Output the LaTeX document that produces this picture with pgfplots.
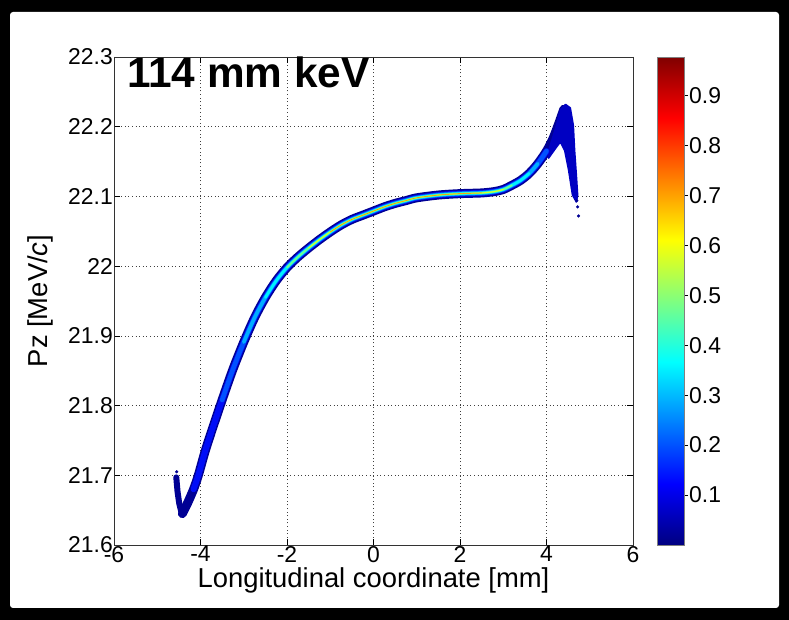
\documentclass[border=0pt]{standalone}
\usepackage{pgfplots}
\usepackage{pgfplotstable}
\pgfplotsset{compat=1.18}
\usepackage{fontspec}
\setmainfont{Liberation Sans}

\definecolor{jA}{rgb}{0,0,0.58}
\definecolor{jP}{rgb}{0,0,0.76}
\definecolor{jB}{rgb}{0,0.05,0.97}
\definecolor{jC}{rgb}{0,0.32,1}
\definecolor{jD}{rgb}{0,0.68,1}
\definecolor{jE}{rgb}{0,0.95,1}
\definecolor{jF}{rgb}{0.42,1,0.58}
\definecolor{jG}{rgb}{0.85,1,0.15}
\definecolor{jH}{rgb}{1,0.5,0}

\pgfplotstableread{
x y
-4.42 21.645
-4.30 21.660
-4.16 21.680
-4.05 21.700
-3.90 21.733
-3.75 21.762
-3.50 21.808
-3.25 21.852
-3.00 21.891
-2.75 21.926
-2.50 21.955
-2.25 21.979
-2.00 21.998
-1.75 22.013
-1.50 22.026
-1.25 22.038
-1.00 22.049
-0.75 22.059
-0.50 22.067
-0.25 22.073
0.00 22.079
0.25 22.085
0.50 22.090
0.75 22.094
1.00 22.098
1.50 22.102
2.00 22.104
2.50 22.105
2.80 22.107
3.00 22.110
3.20 22.116
3.40 22.123
3.60 22.133
3.80 22.147
4.00 22.165
4.15 22.183
4.28 22.204
4.40 22.225
}\curve

\pgfplotstableread{
x y
-4.56 21.697
-4.53 21.676
-4.49 21.659
-4.44 21.647
-4.38 21.648
-4.30 21.660
}\hook

\pgfplotstableread{
x y
4.05 22.166
4.23 22.202
4.32 22.224
4.44 22.232
4.55 22.227
4.62 22.202
4.65 22.166
4.69 22.131
4.72 22.102
4.69 22.092
4.60 22.102
4.51 22.138
4.42 22.166
4.32 22.178
4.21 22.169
4.05 22.155
}\peak

\begin{document}
\begin{tikzpicture}
\fill[black] (0bp,0bp) rectangle (789bp,620bp);
\fill[white, rounded corners=3bp] (10bp,12bp) rectangle (779bp,608bp);
\begin{axis}[
  at={(114bp,75bp)}, anchor=south west,
  scale only axis, width=519bp, height=488bp,
  xmin=-6, xmax=6, ymin=21.6, ymax=22.3,
  xtick={-6,-4,-2,0,2,4,6},
  xticklabels={-6,-4,-2,0,2,4,6},
  ytick={21.6,21.7,21.8,21.9,22,22.1,22.2,22.3},
  yticklabels={21.6,21.7,21.8,21.9,22,22.1,22.2,22.3},
  tick align=inside, major tick length=6bp,
  tick style={black, line width=0.6bp},
  axis line style={black!80, line width=0.8bp},
  grid=major,
  grid style={black!75, line width=0.7bp, dash pattern=on 1bp off 2.6bp},
  ticklabel style={font=\fontsize{23}{25}\selectfont},
  /pgf/number format/assume math mode=true,
  xticklabel style={inner sep=1bp},
  yticklabel style={inner sep=1bp},
  xlabel={Longitudinal coordinate [mm]},
  ylabel={Pz [MeV/\textit{c}]},
  label style={font=\fontsize{27.5}{30}\selectfont},
  xlabel style={at={(axis description cs:0.5,0)}, anchor=north, inner sep=0pt, yshift=-22bp},
  ylabel style={at={(axis description cs:-0.129,0.5)}, anchor=base, inner sep=0pt},
  colormap/jet,
  point meta min=0, point meta max=0.977,
  colorbar,
  colorbar/width=27bp,
  colorbar style={
    at={(parent axis.north east)}, anchor=north west, xshift=15.5bp,
    scale only axis,
    width=27bp, height=488bp,
    ytick={0.1,0.2,0.3,0.4,0.5,0.6,0.7,0.8,0.9},
    yticklabels={0.1,0.2,0.3,0.4,0.5,0.6,0.7,0.8,0.9},
    ytick pos=right, yticklabel pos=right,
    tick align=outside, major tick length=4bp,
    axis line style={black!50, line width=0.5bp},
    yticklabel style={font=\fontsize{23}{25}\selectfont, inner sep=1bp},
  },
]
% dark outer band
\addplot[jA, line width=9bp, line cap=round, line join=round, smooth] table {\curve};
\addplot[jA, line width=6bp, line cap=round, line join=round] table {\hook};
\addplot[jP, fill=jP, line width=1.5bp, line join=round] table {\peak} -- cycle;
\addplot[only marks, mark=*, mark size=1.4bp, jA] coordinates {(4.72,22.085) (4.74,22.072) (4.70,22.094) (-4.55,21.705)};
% inner layers
\addplot[jB, line width=6bp, line cap=round, smooth, restrict x to domain=-4.25:4.1] table {\curve};
\addplot[jC, line width=4.6bp, line cap=round, smooth, restrict x to domain=-3.7:4.05] table {\curve};
\addplot[jD, line width=3.6bp, line cap=round, smooth, restrict x to domain=-3.0:3.8] table {\curve};
\addplot[jE, line width=2.7bp, line cap=round, smooth, restrict x to domain=-2.5:3.6] table {\curve};
\addplot[jF, line width=1.9bp, line cap=round, smooth, restrict x to domain=-2.0:3.2] table {\curve};
\addplot[jG, line width=1.0bp, line cap=round, smooth, restrict x to domain=-1.5:3.0] table {\curve};
\addplot[jH, line width=0.5bp, line cap=round, smooth, restrict x to domain=-1.0:2.5] table {\curve};
\node[anchor=north west, inner sep=0pt, font=\fontsize{42.5}{45}\selectfont\bfseries] at (rel axis cs:0,1) [xshift=13bp] {114 mm keV};
\end{axis}
\end{tikzpicture}
\end{document}
